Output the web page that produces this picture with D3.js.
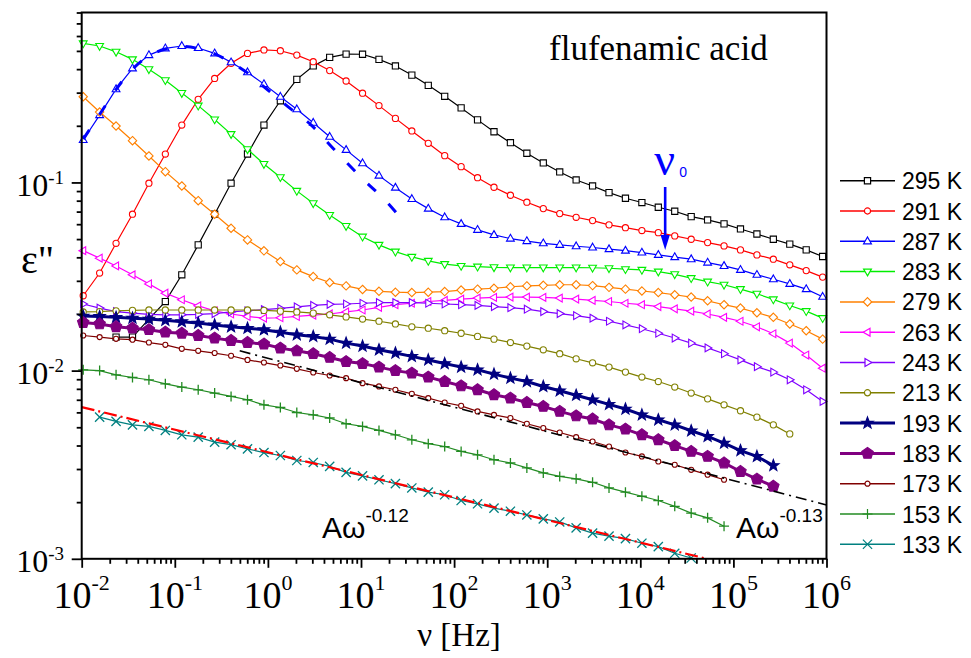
<!DOCTYPE html>
<html>
<head>
<meta charset="utf-8">
<script src="https://cdn.jsdelivr.net/npm/d3@7"></script>
<style>
  html, body { margin: 0; padding: 0; background: #ffffff; }
  svg { display: block; }
</style>
</head>
<body>
<svg id="chart" width="971" height="658"></svg>
<script>
// Measurement frequencies (Hz), shared by every temperature
const freq = [0.01038, 0.01558, 0.02339, 0.03512, 0.05272, 0.07914, 0.1189, 0.1784, 0.2679, 0.4022,
  0.6039, 0.9068, 1.361, 2.044, 3.069, 4.608, 6.918, 10.39, 15.60, 23.42,
  35.16, 52.79, 79.25, 119.0, 178.6, 268.2, 402.7, 604.6, 907.8, 1363,
  2046, 3072, 4613, 6926, 10400, 15610, 23440, 35200, 52840, 79340,
  119100, 178900, 268500, 403300, 605300, 908800];

const temps = ["295 K", "291 K", "287 K", "283 K", "279 K", "263 K", "243 K",
  "213 K", "193 K", "183 K", "173 K", "153 K", "133 K"];

// index of the first frequency measured for each temperature
const firstIndex = [2, 0, 0, 0, 0, 0, 0, 0, 0, 0, 0, 0, 1];

// dielectric loss ε'' per temperature
const eps295 = [0.01507, 0.01507, 0.01877, 0.02328, 0.0323, 0.0466, 0.0678, 0.0991, 0.1416, 0.2018,
  0.2716, 0.353, 0.416, 0.462, 0.481, 0.480, 0.451, 0.416, 0.372, 0.328,
  0.287, 0.249, 0.215, 0.186, 0.1626, 0.1429, 0.1269, 0.1137, 0.1031, 0.0958,
  0.0883, 0.0824, 0.0782, 0.0738, 0.0703, 0.0658, 0.0632, 0.0602, 0.0566, 0.0532,
  0.0499, 0.0470, 0.0438, 0.0404];
const eps291 = [0.0250, 0.0330, 0.0475, 0.0678, 0.0991, 0.1416, 0.2018, 0.2767, 0.357, 0.430,
  0.485, 0.506, 0.501, 0.475, 0.438, 0.393, 0.346, 0.298, 0.256, 0.219,
  0.1877, 0.1614, 0.1388, 0.1213, 0.1060, 0.0943, 0.0855, 0.0785, 0.0726, 0.0683,
  0.0653, 0.0627, 0.0595, 0.0575, 0.0555, 0.0541, 0.0520, 0.0499, 0.0479, 0.0460,
  0.0438, 0.0412, 0.0391, 0.0365, 0.0340, 0.0314];
const eps287 = [0.168, 0.228, 0.313, 0.404, 0.475, 0.516, 0.531, 0.518, 0.485, 0.435,
  0.385, 0.333, 0.2855, 0.245, 0.2077, 0.175, 0.1489, 0.1265, 0.1087, 0.0938,
  0.0817, 0.0726, 0.0653, 0.0602, 0.0560, 0.0526, 0.0503, 0.0488, 0.0475, 0.0466,
  0.0458, 0.0451, 0.0442, 0.0434, 0.0424, 0.0412, 0.0401, 0.0391, 0.0375, 0.0360,
  0.0343, 0.0323, 0.0306, 0.0289, 0.0271, 0.0247];
const eps283 = [0.548, 0.531, 0.4945, 0.451, 0.3996, 0.3495, 0.2985, 0.256, 0.2162, 0.1807,
  0.1500, 0.1253, 0.1066, 0.0902, 0.0775, 0.0672, 0.0587, 0.0515, 0.0466, 0.0429,
  0.0402, 0.0383, 0.0368, 0.0360, 0.0357, 0.0354, 0.0353, 0.0353, 0.0353, 0.0353,
  0.0353, 0.0352, 0.0350, 0.0346, 0.0343, 0.0336, 0.0325, 0.0310, 0.0297, 0.0286,
  0.0271, 0.0256, 0.0239, 0.0222, 0.0207, 0.0190];
const eps279 = [0.2855, 0.2366, 0.1995, 0.1667, 0.1383, 0.1141, 0.0958, 0.0800, 0.0678, 0.0571,
  0.0495, 0.0433, 0.0380, 0.0343, 0.0316, 0.0294, 0.0282, 0.0270, 0.0264, 0.0261,
  0.0260, 0.0261, 0.0263, 0.0268, 0.0271, 0.0274, 0.0279, 0.0282, 0.0284, 0.0286,
  0.0286, 0.0283, 0.0277, 0.0271, 0.0265, 0.0260, 0.0253, 0.0246, 0.0235, 0.0224,
  0.0215, 0.0203, 0.0192, 0.0177, 0.0163, 0.0147];
const eps263 = [0.0434, 0.0396, 0.0360, 0.0323, 0.0289, 0.0258, 0.0238, 0.0221, 0.0208, 0.0200,
  0.0194, 0.0190, 0.0191, 0.0194, 0.0197, 0.0200, 0.0205, 0.0210, 0.0217, 0.0224,
  0.0228, 0.0233, 0.0236, 0.0240, 0.0243, 0.0245, 0.0246, 0.0246, 0.0245, 0.0243,
  0.0240, 0.0236, 0.0233, 0.0228, 0.0224, 0.0219, 0.0213, 0.0207, 0.0200, 0.0192,
  0.0183, 0.0171, 0.0157, 0.0140, 0.0121, 0.0103];
const eps243 = [0.0226, 0.0215, 0.0206, 0.0202, 0.0199, 0.0198, 0.0198, 0.0199, 0.0201, 0.0205,
  0.0208, 0.0211, 0.0214, 0.0218, 0.0222, 0.0225, 0.0226, 0.0228, 0.0230, 0.0230,
  0.0230, 0.0228, 0.0226, 0.0224, 0.0222, 0.0219, 0.0216, 0.0212, 0.0206, 0.0201,
  0.0196, 0.0190, 0.0183, 0.0175, 0.0167, 0.0158, 0.0149, 0.0140, 0.0132, 0.0123,
  0.0114, 0.0105, 0.00982, 0.00894, 0.00791, 0.00686];
const eps213 = [0.0205, 0.0206, 0.0208, 0.0209, 0.0210, 0.0210, 0.0210, 0.0210, 0.0210, 0.0210,
  0.0210, 0.0209, 0.0207, 0.0205, 0.0202, 0.0198, 0.0193, 0.0188, 0.0183, 0.0177,
  0.0171, 0.0168, 0.0163, 0.0158, 0.0152, 0.0147, 0.0141, 0.0135, 0.0129, 0.0123,
  0.01156, 0.0110, 0.01044, 0.00982, 0.00924, 0.00875, 0.00818, 0.00760, 0.00708, 0.00658,
  0.00612, 0.00566, 0.00515, 0.00461];
const eps193 = [0.0195, 0.0194, 0.0192, 0.0190, 0.0188, 0.0185, 0.0182, 0.0179, 0.0175, 0.0171,
  0.0168, 0.0165, 0.0160, 0.0155, 0.0152, 0.0147, 0.0140, 0.0135, 0.0129, 0.0124,
  0.0119, 0.0114, 0.0109, 0.01044, 0.0101, 0.00958, 0.00912, 0.00875, 0.00824, 0.00781,
  0.00740, 0.00700, 0.00662, 0.00625, 0.00582, 0.00548, 0.00515, 0.00479, 0.00447, 0.00412,
  0.00376, 0.00350, 0.00313];
const eps183 = [0.0180, 0.0177, 0.0171, 0.0168, 0.0165, 0.0160, 0.0158, 0.01537, 0.01488, 0.01445,
  0.0141, 0.01384, 0.01317, 0.01274, 0.0123, 0.01175, 0.01117, 0.0109, 0.01044, 0.0100,
  0.00970, 0.00924, 0.00875, 0.00830, 0.00791, 0.00744, 0.00714, 0.00677, 0.00645, 0.00607,
  0.00575, 0.00553, 0.00515, 0.00489, 0.00456, 0.00429, 0.00399, 0.00372, 0.00350, 0.00323,
  0.00291, 0.00265, 0.00243];
const eps173 = [0.01537, 0.01507, 0.01476, 0.0146, 0.0141, 0.01371, 0.01306, 0.01274, 0.0124, 0.0120,
  0.0114, 0.01104, 0.01064, 0.01022, 0.00977, 0.00942, 0.00912, 0.00858, 0.00824, 0.00791,
  0.00753, 0.00714, 0.00677, 0.00650, 0.00607, 0.00582, 0.00560, 0.00522, 0.00495, 0.00469,
  0.00443, 0.00420, 0.00395, 0.00367, 0.00350, 0.00329, 0.00316, 0.00297, 0.00280, 0.00263];
const eps153 = [0.0101, 0.0100, 0.00950, 0.00919, 0.00894, 0.00851, 0.00818, 0.00791, 0.00760, 0.00729,
  0.00700, 0.00658, 0.00637, 0.00599, 0.00582, 0.00560, 0.00522, 0.00505, 0.00481, 0.00456,
  0.00429, 0.00409, 0.00395, 0.00372, 0.00357, 0.00336, 0.00323, 0.00304, 0.00286, 0.00274,
  0.00266, 0.00255, 0.00238, 0.00226, 0.00215, 0.00204, 0.00190, 0.00175, 0.00165, 0.00149];
const eps133 = [0.00566, 0.00537, 0.00515, 0.00505, 0.00481, 0.00456, 0.00443, 0.00417, 0.00404,
  0.00384, 0.00367, 0.00354, 0.00333, 0.00325, 0.00310, 0.00288, 0.00276, 0.00263, 0.00251,
  0.00238, 0.00226, 0.00219, 0.00204, 0.00196, 0.00186, 0.00179, 0.00171, 0.00163, 0.00157,
  0.00146, 0.00137, 0.00132, 0.00128, 0.00121, 0.00116, 0.00107, 0.00101];

// Relaxation fit drawn over the 287 K peak
const fitNu  = [0.0104, 0.0156, 0.0234, 0.0351, 0.0527, 0.0791, 0.119, 0.178, 0.268, 0.402,
  0.604, 0.78, 1.0, 1.64, 2.92, 5.0, 10.3, 18.4, 29.4];
const fitEps = [0.170, 0.230, 0.312, 0.400, 0.470, 0.512, 0.528, 0.515, 0.482, 0.435,
  0.382, 0.343, 0.310, 0.253, 0.2018, 0.152, 0.105, 0.080, 0.0612];

// Power laws A·ω^n for the low-temperature curves
const lawExponent = [-0.12, -0.13];
const lawStartNu  = [0.01, 0.498];
const lawStartEps = [0.0064, 0.01274];
const lawEndNu    = [5e4, 1e6];

// decades that carry a 10^n label
const xDecades = [-2, -1, 0, 1, 2, 3, 4, 5, 6];
const yDecades = [-3, -2, -1];

// frequency marked by the ν0 arrow
const nu0 = 18500;

// ---------------------------------------------------------------
const svg = d3.select("#chart");
const SERIF = "'Liberation Serif','Times New Roman',Times,serif";
const SANS = "'Liberation Sans',Arial,Helvetica,sans-serif";

const plot = { left: 81.7, right: 826.5, top: 12.5, bottom: 558.8 };
const x = d3.scaleLog().domain([1e-2, 1e6]).range([plot.left, plot.right]);
const y = d3.scaleLog().domain([1e-3, 0.8]).range([plot.bottom, plot.top]);

svg.append("rect").attr("width", 971).attr("height", 658).attr("fill", "#fff");

svg.append("defs").append("clipPath").attr("id", "plotClip")
  .append("rect")
  .attr("x", plot.left).attr("y", plot.top)
  .attr("width", plot.right - plot.left).attr("height", plot.bottom - plot.top);

// marker shapes
function polygon(n, r, rot) {
  const pts = [];
  for (let i = 0; i < n; i++) {
    const a = rot + i * 2 * Math.PI / n;
    pts.push([r * Math.cos(a), r * Math.sin(a)]);
  }
  return "M" + pts.map(p => p[0].toFixed(2) + "," + p[1].toFixed(2)).join("L") + "Z";
}
function starPath(ro, ri) {
  const pts = [];
  for (let i = 0; i < 10; i++) {
    const r = i % 2 === 0 ? ro : ri;
    const a = -Math.PI / 2 + i * Math.PI / 5;
    pts.push([r * Math.cos(a), r * Math.sin(a)]);
  }
  return "M" + pts.map(p => p[0].toFixed(2) + "," + p[1].toFixed(2)).join("L") + "Z";
}
const markerPaths = {
  square: "M-3.1,-3.1H3.1V3.1H-3.1Z",
  circle: d3.symbol(d3.symbolCircle, 30)(),
  triUp: "M0,-4.3L3.9,2.5L-3.9,2.5Z",
  triDown: "M0,4.3L3.9,-2.5L-3.9,-2.5Z",
  diamond: "M0,-4.2L4.2,0L0,4.2L-4.2,0Z",
  triLeft: "M-4.3,0L2.5,-3.9L2.5,3.9Z",
  triRight: "M4.3,0L-2.5,-3.9L-2.5,3.9Z",
  star: starPath(6, 2.5),
  pentagon: polygon(5, 6, -Math.PI / 2),
  smallCircle: d3.symbol(d3.symbolCircle, 20)(),
  plus: "M-5,0H5M0,-5V5",
  cross: "M-4.6,-4.6L4.6,4.6M-4.6,4.6L4.6,-4.6"
};

const seriesValues = [eps295, eps291, eps287, eps283, eps279, eps263, eps243,
  eps213, eps193, eps183, eps173, eps153, eps133];
const seriesStyle = [
  { color: "#000000", marker: "square",      width: 1.2, fill: "#fff" },
  { color: "#ff0000", marker: "circle",      width: 1.2, fill: "#fff" },
  { color: "#0000ff", marker: "triUp",       width: 1.2, fill: "#fff" },
  { color: "#00ee00", marker: "triDown",     width: 1.2, fill: "#fff" },
  { color: "#ff8000", marker: "diamond",     width: 1.2, fill: "#fff" },
  { color: "#ff00ff", marker: "triLeft",     width: 1.2, fill: "#fff" },
  { color: "#8000ff", marker: "triRight",    width: 1.2, fill: "#fff" },
  { color: "#808000", marker: "circle",      width: 1.2, fill: "#fff" },
  { color: "#000080", marker: "star",        width: 3.0, fill: "#000080" },
  { color: "#800080", marker: "pentagon",    width: 3.0, fill: "#800080" },
  { color: "#800000", marker: "smallCircle", width: 1.2, fill: "#fff" },
  { color: "#228b22", marker: "plus",        width: 1.2, fill: "none" },
  { color: "#008080", marker: "cross",       width: 1.2, fill: "none" }
];

const series = temps.map((t, i) => ({
  label: t,
  style: seriesStyle[i],
  points: seriesValues[i].map((v, j) => ({ nu: freq[firstIndex[i] + j], eps: v }))
}));

const line = d3.line().x(d => x(d.nu)).y(d => y(d.eps));

// data curves
const dataG = svg.append("g");
series.forEach(s => {
  const g = dataG.append("g");
  g.append("path")
    .attr("d", line(s.points))
    .attr("fill", "none")
    .attr("stroke", s.style.color)
    .attr("stroke-width", s.style.width)
    .attr("clip-path", "url(#plotClip)");
  g.selectAll("path.mk").data(s.points).join("path")
    .attr("class", "mk")
    .attr("d", markerPaths[s.style.marker])
    .attr("transform", d => `translate(${x(d.nu)},${y(d.eps)})`)
    .attr("fill", s.style.fill)
    .attr("stroke", s.style.color)
    .attr("stroke-width", s.style.marker === "plus" || s.style.marker === "cross" ? 1.3 : 1.1);
});

// relaxation fit (dashed)
const fitPts = fitNu.map((v, i) => ({ nu: v, eps: fitEps[i] }));
svg.append("path")
  .attr("d", d3.line().curve(d3.curveCatmullRom).x(d => x(d.nu)).y(d => y(d.eps))(fitPts))
  .attr("fill", "none")
  .attr("stroke", "#0000ff")
  .attr("stroke-width", 3)
  .attr("stroke-dasharray", "11 18")
  .attr("clip-path", "url(#plotClip)");

// power-law lines
const lawColor = ["#ff0000", "#000000"];
const lawDash = ["13 4 2 4", "11 5 2 5"];
const lawWidth = [2.2, 1.6];
lawExponent.forEach((n, i) => {
  const p0 = { nu: lawStartNu[i], eps: lawStartEps[i] };
  const p1 = { nu: lawEndNu[i], eps: lawStartEps[i] * Math.pow(lawEndNu[i] / lawStartNu[i], n) };
  svg.append("path")
    .attr("d", line([p0, p1]))
    .attr("fill", "none")
    .attr("stroke", lawColor[i])
    .attr("stroke-width", lawWidth[i])
    .attr("stroke-dasharray", lawDash[i])
    .attr("clip-path", "url(#plotClip)");
});

// axes: tick marks come from the log scales
const isMajor = t => Math.abs(Math.log10(t) - Math.round(Math.log10(t))) < 1e-9;
const xTicks = x.ticks();
const yTicks = y.ticks();

const xAxisG = svg.append("g").attr("transform", `translate(0,${plot.bottom})`);
xAxisG.call(d3.axisBottom(x).tickValues(xTicks.filter(t => !isMajor(t))).tickSize(5).tickFormat(""))
  .call(g => g.select(".domain").remove());
xAxisG.append("g").call(d3.axisBottom(x).tickValues(xTicks.filter(isMajor)).tickSize(9).tickFormat(""))
  .call(g => g.select(".domain").remove());
xAxisG.selectAll("line").attr("stroke", "#000").attr("stroke-width", 1.8);

const yAxisG = svg.append("g").attr("transform", `translate(${plot.left},0)`);
yAxisG.call(d3.axisLeft(y).tickValues(yTicks.filter(t => !isMajor(t))).tickSize(5).tickFormat(""))
  .call(g => g.select(".domain").remove());
yAxisG.append("g").call(d3.axisLeft(y).tickValues(yTicks.filter(isMajor)).tickSize(10).tickFormat(""))
  .call(g => g.select(".domain").remove());
yAxisG.selectAll("line").attr("stroke", "#000").attr("stroke-width", 1.8);

// frame
svg.append("rect")
  .attr("x", plot.left).attr("y", plot.top)
  .attr("width", plot.right - plot.left).attr("height", plot.bottom - plot.top)
  .attr("fill", "none").attr("stroke", "#000").attr("stroke-width", 2);

// tick labels as 10^n
xDecades.forEach(e => {
  const t = svg.append("text")
    .attr("x", x(Math.pow(10, e))).attr("y", 608)
    .attr("text-anchor", "middle")
    .attr("font-family", SERIF).attr("font-size", 38).attr("fill", "#000");
  t.append("tspan").text("10");
  t.append("tspan").attr("dy", -18).attr("font-size", 22).text(String(e));
});
yDecades.forEach(e => {
  const t = svg.append("text")
    .attr("x", 64).attr("y", y(Math.pow(10, e)) + 13.5)
    .attr("text-anchor", "end")
    .attr("font-family", SERIF).attr("font-size", 32).attr("fill", "#000");
  t.append("tspan").text("10");
  t.append("tspan").attr("dy", -12).attr("font-size", 19).text(String(e));
});

// axis titles
svg.append("text")
  .attr("x", 459).attr("y", 646)
  .attr("text-anchor", "middle")
  .attr("font-family", SERIF).attr("font-size", 33).attr("fill", "#000")
  .text("ν [Hz]");
svg.append("text")
  .attr("x", 21).attr("y", 273)
  .attr("font-family", SERIF).attr("font-size", 40).attr("fill", "#000")
  .text("ε\"");

// title
svg.append("text")
  .attr("x", 549).attr("y", 60)
  .attr("font-family", SERIF).attr("font-size", 35).attr("fill", "#000")
  .text("flufenamic acid");

// ν0 marker with arrow
const nu0x = x(nu0);
svg.append("text")
  .attr("x", nu0x - 11).attr("y", 175)
  .attr("font-family", SERIF).attr("font-size", 46).attr("fill", "#0000ff")
  .text("ν");
svg.append("text")
  .attr("x", nu0x + 14).attr("y", 177)
  .attr("font-family", SANS).attr("font-size", 14).attr("fill", "#0000ff")
  .text("0");
svg.append("line")
  .attr("x1", nu0x).attr("x2", nu0x).attr("y1", 187).attr("y2", 238)
  .attr("stroke", "#0000ff").attr("stroke-width", 2.6);
svg.append("path")
  .attr("d", `M${nu0x},250L${nu0x - 4.6},235L${nu0x + 4.6},235Z`)
  .attr("fill", "#0000ff");

// power-law annotations
const lawTextX = [322, 736];
lawExponent.forEach((n, i) => {
  const t = svg.append("text")
    .attr("x", lawTextX[i]).attr("y", 538)
    .attr("font-family", SANS).attr("font-size", 30).attr("fill", "#000");
  t.append("tspan").text("Aω");
  t.append("tspan").attr("dy", -16).attr("font-size", 19).text(n.toFixed(2));
});

// legend
const legendG = svg.append("g");
series.forEach((s, i) => {
  const yy = 180.7 + i * 30.3;
  legendG.append("line")
    .attr("x1", 840).attr("x2", 895).attr("y1", yy).attr("y2", yy)
    .attr("stroke", s.style.color).attr("stroke-width", s.style.width === 3 ? 3 : 1.5);
  legendG.append("path")
    .attr("d", markerPaths[s.style.marker])
    .attr("transform", `translate(867.5,${yy})`)
    .attr("fill", s.style.fill)
    .attr("stroke", s.style.color)
    .attr("stroke-width", 1.2);
  legendG.append("text")
    .attr("x", 902).attr("y", yy + 8.5)
    .attr("font-family", SANS).attr("font-size", 23).attr("fill", "#000")
    .text(s.label);
});
</script>
</body>
</html>
